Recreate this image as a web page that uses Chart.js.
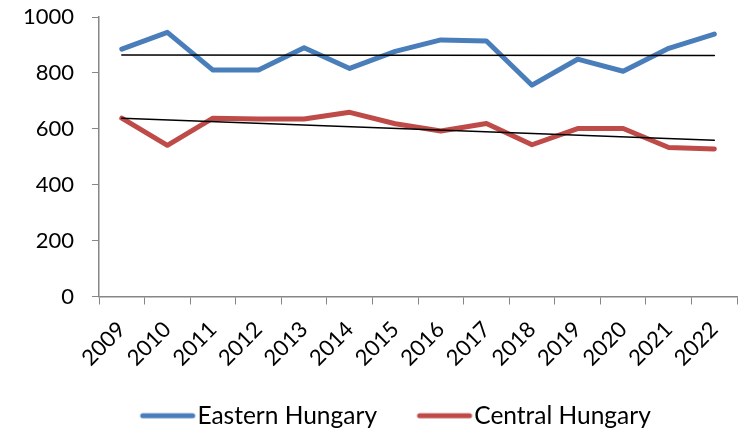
<!DOCTYPE html>
<html>
<head>
<meta charset="utf-8">
<script src="https://cdn.jsdelivr.net/npm/chart.js@4"></script>
<style>
  html, body { margin: 0; padding: 0; background: #fff; overflow: hidden; }
  #wrap { width: 745px; height: 429px; }
</style>
</head>
<body>
<div id="wrap"><canvas id="chart"></canvas></div>
<script>
const years = ['2009', '2010', '2011', '2012', '2013', '2014', '2015',
    '2016', '2017', '2018', '2019', '2020', '2021', '2022'];
const eastern = [885, 945, 810, 810, 890, 816, 877, 918, 914, 756, 849, 806, 888, 939];
const central = [638, 541, 638, 635, 635, 659, 618, 592, 619, 543, 601, 601, 533, 528];
// trend line end points
const easternTrend = [864, null, null, null, null, null, null, null, null, null, null, null, null, 862];
const centralTrend = [638, null, null, null, null, null, null, null, null, null, null, null, null, 559];
const yTicks = [0, 200, 400, 600, 800, 1000];

const blue = '#4A7EBB';
const red = '#BE4B48';
const axisColor = '#868686';
const font = { family: 'Lato', size: 22 };
const legendFont = { family: 'Lato', size: 24.5 };

// legend symbol: a short thick line, drawn a bit left of the box so it sits close to the text
function legendLine(color) {
    const c = document.createElement('canvas');
    c.width = 120;
    c.height = 10;
    const ctx = c.getContext('2d');
    ctx.strokeStyle = color;
    ctx.lineWidth = 5;
    ctx.lineCap = 'round';
    ctx.beginPath();
    ctx.moveTo(56, 5);
    ctx.lineTo(106, 5);
    ctx.stroke();
    return c;
}

// move the legend to where it sits in the original
const legendShift = {
    id: 'legendShift',
    afterLayout(chart) {
        const lg = chart.legend;
        const dx = 7, dy = 9;
        lg.left += dx; lg.right += dx;
        lg.top += dy; lg.bottom += dy;
    }
};

const data = {
    labels: years,
    datasets: [{
        label: 'Eastern Hungary',
        data: eastern,
        borderColor: blue,
        backgroundColor: blue,
        borderWidth: 5,
        pointStyle: legendLine(blue),
        order: 2
    }, {
        label: 'Central Hungary',
        data: central,
        borderColor: red,
        backgroundColor: red,
        borderWidth: 5,
        pointStyle: legendLine(red),
        order: 2
    }, {
        label: 'trend1',
        data: easternTrend,
        borderColor: '#000',
        borderWidth: 1.5,
        spanGaps: true,
        order: 1
    }, {
        label: 'trend2',
        data: centralTrend,
        borderColor: '#000',
        borderWidth: 1.5,
        spanGaps: true,
        order: 1
    }]
};

const config = {
    type: 'line',
    data,
    options: {
        responsive: true,
        maintainAspectRatio: false,
        animation: false,
        layout: {
            padding: 0
        },
        elements: {
            point: { radius: 0 },
            line: { tension: 0, borderJoinStyle: 'round', borderCapStyle: 'round' }
        },
        plugins: {
            tooltip: false,
            legend: {
                position: 'bottom',
                labels: {
                    color: '#000',
                    font: legendFont,
                    usePointStyle: true,
                    pointStyleWidth: 77,
                    padding: 8,
                    filter: (item) => item.datasetIndex < 2
                }
            }
        },
        scales: {
            x: {
                offset: true,
                afterFit: (scale) => {
                    scale.height = 90;
                },
                grid: {
                    offset: true,
                    drawOnChartArea: false,
                    drawTicks: true,
                    tickLength: 8,
                    color: axisColor
                },
                border: { color: axisColor, width: 1.5 },
                ticks: {
                    color: '#000',
                    font: font,
                    maxRotation: 45,
                    minRotation: 45,
                    padding: 12
                }
            },
            y: {
                min: 0,
                max: 1000,
                afterBuildTicks: (scale) => {
                    scale.ticks = yTicks.map(v => ({ value: v }));
                },
                afterFit: (scale) => {
                    scale.width = 99;
                    scale.paddingTop = 17;
                },
                grid: {
                    drawOnChartArea: false,
                    drawTicks: true,
                    tickLength: 7,
                    color: axisColor
                },
                border: { color: axisColor, width: 1.5 },
                ticks: {
                    color: '#000',
                    font: font,
                    padding: 18,
                    callback: (v) => String(v)
                }
            }
        }
    },
    plugins: [legendShift]
};

var myChart = new Chart(
    document.getElementById('chart'),
    config
);
</script>
</body>
</html>
